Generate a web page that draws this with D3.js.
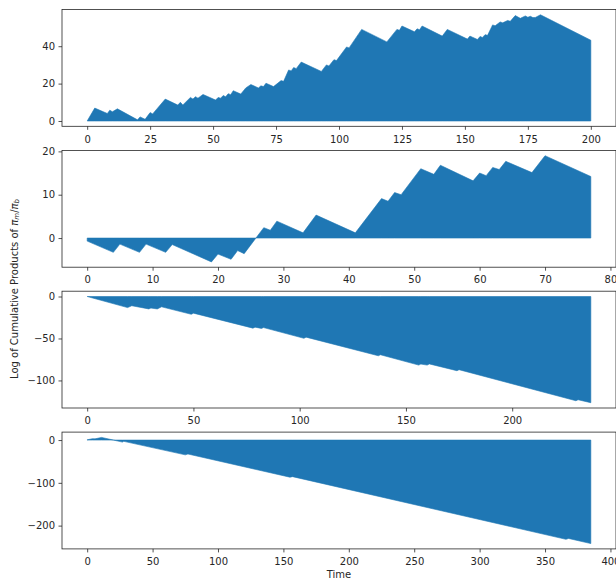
<!DOCTYPE html>
<html>
<head>
<meta charset="utf-8">
<script src="https://cdn.jsdelivr.net/npm/d3@7"></script>
<style>
  body { margin: 0; background: #fff; }
  text { font-family: "DejaVu Sans", sans-serif; }
</style>
</head>
<body>
<svg id="chart" width="616" height="579"></svg>
<script>
// Cumulative log-ratio paths, stored at their turning points (time step, value)
const times1  = [0, 3, 8, 9, 10, 12, 20, 21, 23, 25, 26, 31, 36, 37, 38, 41, 42, 43, 44, 46, 51, 52, 53, 54, 55, 56, 57, 58, 61, 63, 65, 68, 69, 70, 71, 74, 77, 78, 80, 81, 82, 83, 85, 93, 95, 96, 98, 99, 103, 104, 109, 119, 123, 124, 125, 130, 131, 132, 133, 141, 143, 151, 152, 153, 155, 156, 157, 158, 159, 161, 162, 164, 165, 167, 168, 170, 172, 174, 175, 176, 177, 178, 180, 200];
const values1 = [0, 6.9, 4.0, 5.8, 4.9, 6.5, 0.6, 2.2, 0.9, 4.5, 3.8, 11.7, 8.5, 10.0, 8.6, 12.6, 11.7, 13.0, 12.2, 14.2, 11.2, 12.6, 12.2, 13.6, 13.0, 14.6, 14.1, 16.2, 14.4, 17.7, 19.5, 17.7, 18.8, 18.4, 20.2, 18.4, 21.6, 21.2, 27.3, 26.8, 28.6, 28.0, 31.5, 26.5, 30.0, 29.4, 32.8, 32.3, 39.6, 39.1, 49.0, 42.3, 49.0, 48.5, 50.8, 47.7, 49.3, 48.8, 50.8, 45.4, 49.0, 43.8, 45.4, 44.8, 43.6, 45.2, 44.7, 46.2, 45.8, 51.4, 50.9, 53.0, 52.5, 53.8, 53.3, 56.4, 54.9, 56.2, 55.5, 56.0, 55.3, 55.4, 56.8, 43.2];

const times2  = [0, 4, 5, 8, 9, 12, 13, 19, 20, 22, 23, 24, 26, 27, 28, 29, 33, 35, 41, 45, 46, 47, 48, 51, 53, 54, 59, 60, 61, 62, 63, 64, 68, 70, 77];
const values2 = [-0.7, -3.3, -1.4, -3.3, -1.4, -3.3, -1.5, -5.5, -3.7, -4.9, -2.9, -3.6, 0.4, 2.4, 1.8, 3.9, 1.2, 5.3, 1.2, 9.1, 8.5, 10.5, 10.0, 16.0, 14.7, 16.8, 13.2, 15.0, 14.4, 16.3, 15.8, 17.7, 15.1, 19.0, 14.2];

const times3  = [0, 19, 21, 29, 30, 33, 35, 49, 50, 78, 79, 82, 83, 102, 103, 137, 138, 156, 157, 160, 161, 174, 175, 230, 231, 237];
const values3 = [0, -13.2, -11.0, -14.8, -13.8, -14.8, -12.3, -21.2, -19.8, -37.7, -36.5, -38.0, -37.0, -49.8, -48.4, -70.6, -69.4, -81.7, -80.5, -81.7, -80.3, -88.4, -87.2, -124.2, -123.0, -126.5];

const times4  = [0, 4, 6, 11, 20, 27, 28, 75, 77, 155, 157, 366, 368, 385];
const values4 = [0.5, 3.2, 2.8, 6.2, 0.0, -4.8, -3.0, -34.6, -32.6, -86.8, -85.5, -232.0, -230.0, -242.0];

// Tick values for each panel
const xTicks1 = [0, 25, 50, 75, 100, 125, 150, 175, 200];
const xTicks2 = [0, 10, 20, 30, 40, 50, 60, 70, 80];
const xTicks3 = [0, 50, 100, 150, 200];
const xTicks4 = [0, 50, 100, 150, 200, 250, 300, 350, 400];
const yTicks1 = [0, 20, 40];
const yTicks2 = [0, 10, 20];
const yTicks3 = [0, -50, -100];
const yTicks4 = [0, -100, -200];

const lastStep = [200, 77, 237, 385];

const fillColor = "#1f77b4";
const inkColor = "#262626";
const svg = d3.select("#chart");

const left = 62, width = 554, height = 116.8;
const tops = [9.5, 150.4, 291.2, 432.1];

const panels = [
  { times: times1, values: values1, xTicks: xTicks1, yTicks: yTicks1 },
  { times: times2, values: values2, xTicks: xTicks2, yTicks: yTicks2 },
  { times: times3, values: values3, xTicks: xTicks3, yTicks: yTicks3 },
  { times: times4, values: values4, xTicks: xTicks4, yTicks: yTicks4 }
];

panels.forEach((p, i) => {
  const g = svg.append("g").attr("transform", `translate(${left},${tops[i]})`);
  const n = lastStep[i];
  const x = d3.scaleLinear().domain([-0.05 * n, 1.05 * n]).range([0, width]);
  const lo = Math.min(0, d3.min(p.values)), hi = Math.max(0, d3.max(p.values));
  const pad = 0.05 * (hi - lo);
  const y = d3.scaleLinear().domain([lo - pad, hi + pad]).range([height, 0]);

  const pts = p.times.map((t, k) => ({ t, v: p.values[k] }));
  const area = d3.area()
    .x(d => x(d.t))
    .y0(y(0))
    .y1(d => y(d.v));
  g.append("path")
    .datum(pts)
    .attr("d", area)
    .attr("fill", fillColor)
    .attr("stroke", fillColor)
    .attr("stroke-width", 0.6)
    .attr("stroke-linejoin", "round");

  const xAxis = g.append("g")
    .attr("transform", `translate(0,${height})`)
    .call(d3.axisBottom(x).tickValues(p.xTicks).tickFormat(d3.format("d"))
      .tickSize(3.5).tickPadding(3.5).tickSizeOuter(0));
  const yAxis = g.append("g")
    .call(d3.axisLeft(y).tickValues(p.yTicks).tickFormat(d3.format("d"))
      .tickSize(3.5).tickPadding(3.5).tickSizeOuter(0));

  [xAxis, yAxis].forEach(a => {
    a.select(".domain").remove();
    a.selectAll(".tick line").attr("stroke", inkColor).attr("stroke-width", 0.8);
    a.selectAll(".tick text").attr("fill", inkColor).attr("font-size", 10)
      .attr("font-family", "DejaVu Sans, sans-serif");
  });
  xAxis.selectAll(".tick text").attr("dy", "0.93em");

  // frame
  g.append("rect")
    .attr("x", 0).attr("y", 0)
    .attr("width", width).attr("height", height)
    .attr("fill", "none")
    .attr("stroke", inkColor)
    .attr("stroke-width", 0.8);
});

// x label
svg.append("text")
  .attr("x", left + width / 2)
  .attr("y", 577.5)
  .attr("text-anchor", "middle")
  .attr("font-size", 10)
  .attr("fill", inkColor)
  .text("Time");

// shared y label
const yl = svg.append("text")
  .attr("transform", "translate(17.5,289) rotate(-90)")
  .attr("text-anchor", "middle")
  .attr("font-size", 10)
  .attr("fill", inkColor);
yl.append("tspan").text("Log of Cumulative Products of ");
yl.append("tspan").attr("font-style", "italic").text("π");
yl.append("tspan").attr("font-style", "italic").attr("font-size", 7).attr("dy", 1.5).text("m");
yl.append("tspan").attr("dy", -1.5).text("/");
yl.append("tspan").attr("font-style", "italic").text("π");
yl.append("tspan").attr("font-style", "italic").attr("font-size", 7).attr("dy", 1.5).text("b");
</script>
</body>
</html>
